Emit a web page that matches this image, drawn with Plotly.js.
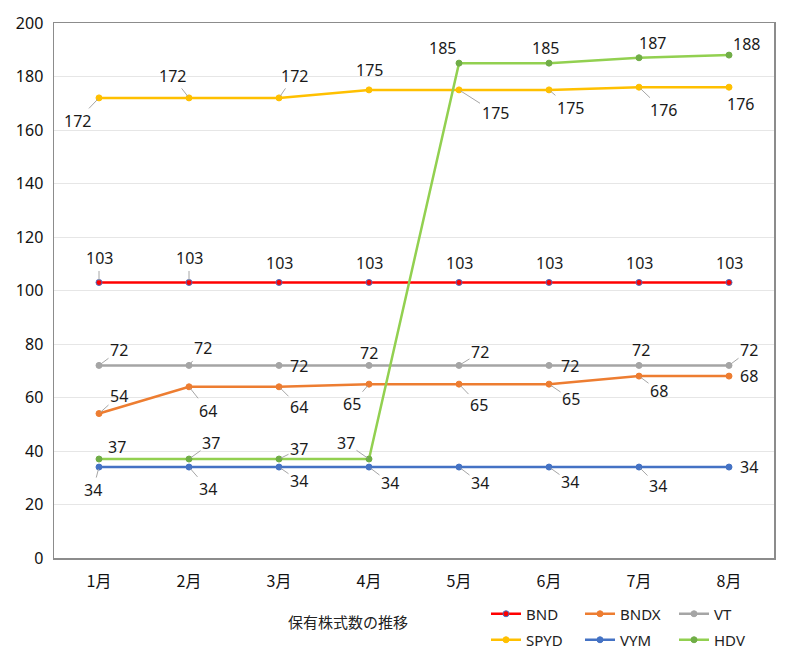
<!DOCTYPE html>
<html>
<head>
<meta charset="utf-8">
<script src="https://cdn.plot.ly/plotly-3.0.1.min.js"></script>
<style>
  html, body { margin: 0; padding: 0; background: #fff; }
  #chart { width: 800px; height: 657px; }
</style>
</head>
<body>
<div id="chart"></div>
<script>
// data
const months = ["1月", "2月", "3月", "4月", "5月", "6月", "7月", "8月"];
const bnd  = [103, 103, 103, 103, 103, 103, 103, 103];
const bndx = [54, 64, 64, 65, 65, 65, 68, 68];
const vt   = [72, 72, 72, 72, 72, 72, 72, 72];
const spyd = [172, 172, 172, 175, 175, 175, 176, 176];
const vym  = [34, 34, 34, 34, 34, 34, 34, 34];
const hdv  = [37, 37, 37, 37, 185, 185, 187, 188];
const chartTitle = "保有株式数の推移";

const FONT = "Noto Sans, Noto Sans CJK JP, sans-serif";

// label placement per point: [dx, dy, leader line?]
const labelPos = {
  BND:  [[0,-24,1],[0,-24,1],[0,-19,0],[0,-19,0],[0,-19,0],[0,-19,0],[0,-19,0],[0,-19,0]],
  BNDX: [[20,-18,1],[19,24,1],[20,20,1],[-17,20,1],[20,21,1],[22,15,1],[20,15,1],[20,0,0]],
  VT:   [[20,-15,1],[14,-17,1],[20,1,0],[0,-12,0],[21,-13,1],[21,1,0],[2,-15,0],[20,-15,1]],
  SPYD: [[-22,23,1],[-17,-22,1],[15,-22,1],[0,-20,0],[36,23,1],[21,18,1],[24,23,1],[11,17,0]],
  VYM:  [[-6,23,1],[19,22,1],[20,14,1],[21,16,1],[21,16,1],[21,15,1],[19,19,1],[20,0,0]],
  HDV:  [[18,-12,0],[22,-16,1],[20,-10,1],[-23,-16,1],[-17,-15,0],[-4,-15,0],[13,-15,0],[17,-11,0]]
};

const series = [
  { name: "BND",  y: bnd,  line: "#FF0000", marker: "#FF0000", edge: "#4472C4", lg: "legend" },
  { name: "BNDX", y: bndx, line: "#ED7D31", marker: "#ED7D31", edge: "#ED7D31", lg: "legend" },
  { name: "VT",   y: vt,   line: "#A5A5A5", marker: "#A5A5A5", edge: "#A5A5A5", lg: "legend" },
  { name: "SPYD", y: spyd, line: "#FFC000", marker: "#FFC000", edge: "#FFC000", lg: "legend2" },
  { name: "VYM",  y: vym,  line: "#4472C4", marker: "#4472C4", edge: "#4472C4", lg: "legend2" },
  { name: "HDV",  y: hdv,  line: "#92D050", marker: "#70AD47", edge: "#70AD47", lg: "legend2" }
];

const traces = series.map(s => ({
  x: months,
  y: s.y,
  name: s.name,
  legend: s.lg,
  type: "scatter",
  mode: "lines+markers",
  line: { color: s.line, width: 2.5 },
  marker: { color: s.marker, size: 6, line: { color: s.edge, width: 1 } }
}));

const annotations = [];
series.forEach(s => {
  s.y.forEach((v, i) => {
    const p = labelPos[s.name][i];
    annotations.push({
      x: months[i], y: v, xref: "x", yref: "y",
      text: String(v),
      showarrow: true,
      arrowhead: 0,
      arrowwidth: 1,
      arrowcolor: p[2] ? "#A6A6A6" : "rgba(0,0,0,0)",
      standoff: 2,
      ax: p[0], ay: p[1],
      font: { family: FONT, size: 16, color: "#1a1a1a" }
    });
  });
});

annotations.push({
  text: chartTitle,
  xref: "paper", yref: "paper",
  x: (348 - 54) / 720, y: (558 - 621) / 535,
  xanchor: "center", yanchor: "middle",
  showarrow: false,
  font: { family: "Noto Sans CJK JP, sans-serif", size: 15, color: "#222" }
});

const legendBase = {
  orientation: "h",
  xref: "container", yref: "container",
  x: 486 / 800, xanchor: "left",
  yanchor: "middle",
  entrywidth: 49, entrywidthmode: "pixels",
  itemwidth: 30,
  font: { family: FONT, size: 15, color: "#222" },
  bgcolor: "rgba(0,0,0,0)"
};

const layout = {
  width: 800,
  height: 657,
  margin: { l: 54, r: 26, t: 23, b: 99, autoexpand: false },
  paper_bgcolor: "#fff",
  plot_bgcolor: "#fff",
  font: { family: FONT, size: 16, color: "#333" },
  showlegend: true,
  legend: Object.assign({}, legendBase, { y: 1 - 614 / 657 }),
  legend2: Object.assign({}, legendBase, { y: 1 - 640 / 657 }),
  xaxis: {
    type: "category",
    range: [-0.5, 7.5],
    showgrid: false,
    showline: true, mirror: true,
    linecolor: "#8C8C8C", linewidth: 1.5,
    ticks: "",
    ticklabelstandoff: 8,
    tickfont: { family: "Noto Sans CJK JP, sans-serif", size: 16, color: "#111" },
    fixedrange: true
  },
  yaxis: {
    range: [0, 200],
    dtick: 20,
    showgrid: true, gridcolor: "#E6E6E6", gridwidth: 1,
    zeroline: false,
    showline: true, mirror: true,
    linecolor: "#8C8C8C", linewidth: 1.5,
    ticks: "",
    ticklabelstandoff: 6,
    tickfont: { family: FONT, size: 16, color: "#111" },
    fixedrange: true
  },
  annotations: annotations
};

Plotly.newPlot("chart", traces, layout, { displayModeBar: false, staticPlot: true });
</script>
</body>
</html>
